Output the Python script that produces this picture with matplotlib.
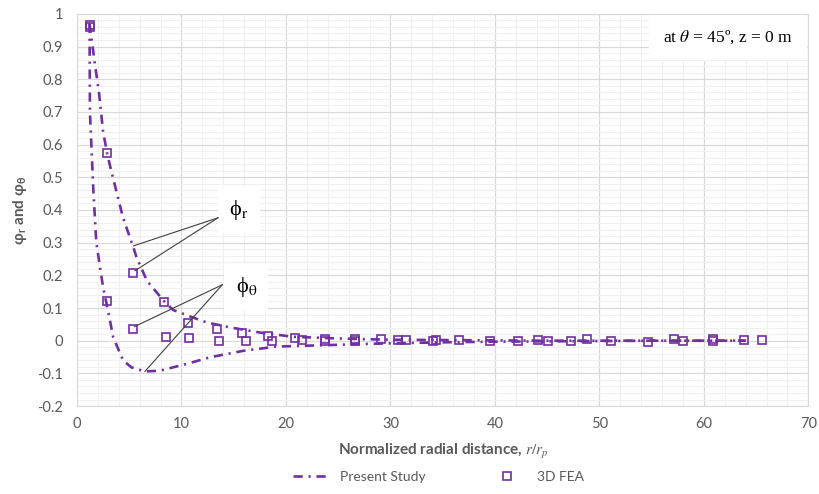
"""Radial decay of phi_r and phi_theta: present study vs 3D FEA."""

import matplotlib

matplotlib.use("Agg")
import matplotlib.pyplot as plt
from matplotlib.ticker import MultipleLocator

PURPLE = "#7030A0"
GREY_TXT = "#595959"

plt.rcParams.update(
    {
        "font.family": ["Lato", "DejaVu Sans"],
        "font.size": 10.5,
        "mathtext.fontset": "stix",
    }
)

# Present Study curves (r/rp, value)
r_curve_x = [1.2, 1.7, 2.1, 2.5, 2.9, 3.2, 4.4, 5.4, 5.7, 6.7, 8.3, 9.2, 11.1, 12.4,
             14.6, 17.5, 20.7, 23.9, 27, 30, 35, 40, 45, 50, 55, 60, 64]
r_curve_y = [0.97, 0.85, 0.76, 0.64, 0.57, 0.53, 0.377, 0.285, 0.255, 0.183, 0.122,
             0.094, 0.071, 0.056, 0.041, 0.025, 0.012, 0.008, 0.005, 0.003, 0.002,
             0.001, 0.0, 0.0, 0.0, 0.0, 0.0]
t_curve_x = [1.2, 1.24, 1.55, 1.85, 2.5, 3.0, 3.47, 4.43, 5.23, 6.5, 7.9, 10.5, 12.7,
             15.9, 19.1, 22.3, 25.5, 30, 35, 40, 45, 50, 55, 60, 64]
t_curve_y = [0.97, 0.7, 0.47, 0.3, 0.163, 0.087, 0.01, -0.061, -0.082, -0.094, -0.092,
             -0.071, -0.051, -0.031, -0.018, -0.015, -0.012, -0.008, -0.005, -0.003,
             -0.002, -0.001, 0.0, 0.0, 0.0]

# 3D FEA points
r_fea_x = [1.2, 2.9, 5.33, 8.3, 10.65, 13.4, 15.8, 18.3, 20.9, 23.7, 26.6, 29.1, 31.5,
           34.4, 36.6, 39.5, 42.2, 44.1, 47.3, 48.8, 51.1, 54.7, 57.1, 60.9, 63.8, 65.6]
r_fea_y = [0.965, 0.573, 0.206, 0.117, 0.053, 0.035, 0.025, 0.015, 0.007, 0.006, 0.004,
           0.006, 0.003, 0.002, 0.001, 0.0, 0.0, 0.003, 0.0, 0.005, 0.0, -0.003, 0.004,
           0.004, 0.003, 0.003]
t_fea_x = [1.2, 2.9, 5.39, 8.5, 10.7, 13.6, 16.2, 18.7, 21.5, 23.7, 26.6, 30.7, 34.1,
           45.1, 58.0, 60.9]
t_fea_y = [0.96, 0.12, 0.036, 0.012, 0.008, 0.0, 0.0, 0.0, 0.002, 0.0, -0.002, 0.002,
           0.0, -0.002, -0.002, 0.0]

fig = plt.figure(figsize=(8.19, 4.94), dpi=100)
ax = fig.add_axes([0.094, 0.178, 0.893, 0.794])

dash = (3.5, 2.2, 0.8, 2.2)
ax.plot(r_curve_x, r_curve_y, color=PURPLE, lw=1.9, dashes=dash, zorder=3,
        label="Present Study")
ax.plot(t_curve_x, t_curve_y, color=PURPLE, lw=1.9, dashes=dash, zorder=3)
ax.plot(r_fea_x, r_fea_y, ls="none", marker="s", ms=6, mfc="none", mec=PURPLE,
        mew=1.2, zorder=4, label="3D FEA")
ax.plot(t_fea_x, t_fea_y, ls="none", marker="s", ms=6, mfc="none", mec=PURPLE,
        mew=1.2, zorder=4)

ax.set_xlim(0, 70)
ax.set_ylim(-0.2, 1.0)
ax.xaxis.set_major_locator(MultipleLocator(10))
ax.xaxis.set_minor_locator(MultipleLocator(2))
ax.yaxis.set_major_locator(MultipleLocator(0.1))
ax.yaxis.set_minor_locator(MultipleLocator(0.02))
ax.yaxis.set_major_formatter(lambda v, _: f"{v:g}" if abs(v) > 1e-9 else "0")
ax.grid(True, which="major", color="#d9d9d9", lw=0.9)
ax.grid(True, which="minor", color="#f0f0f0", lw=0.8)
ax.set_axisbelow(True)
for s in ax.spines.values():
    s.set_color("#d9d9d9")
ax.tick_params(which="both", length=0, colors=GREY_TXT, labelsize=10.5)
ax.tick_params(axis="x", pad=8)
ax.tick_params(axis="y", pad=10)

ax.set_xlabel(r"Normalized radial distance, $\mathit{r/r_p}$", fontweight="bold",
              color=GREY_TXT, fontsize=11, labelpad=8)
ax.set_ylabel(r"φ$_\mathregular{r}$ and φ$_\mathregular{θ}$", fontweight="bold",
              color=GREY_TXT, fontsize=11, labelpad=6)

# annotations
serif = ["Liberation Serif", "DejaVu Serif"]
box = dict(boxstyle="square,pad=0.5", fc="white", ec="none")
ax.text(15.5, 0.40, r"ϕ$_\mathrm{r}$", fontsize=16, family=serif, ha="center",
        va="center", bbox=box, zorder=5)
ax.text(16.2, 0.165, r"ϕ$_\mathrm{\theta}$", fontsize=16, family=serif, ha="center",
        va="center", bbox=box, zorder=5)
line_kw = dict(color="#404040", lw=0.8, zorder=5)
ax.plot([13.5, 5.4], [0.376, 0.29], **line_kw)
ax.plot([13.5, 5.55], [0.376, 0.214], **line_kw)
ax.plot([13.9, 5.5], [0.171, 0.043], **line_kw)
ax.plot([13.9, 6.5], [0.171, -0.094], **line_kw)

ax.text(0.89, 0.94, r"at $\mathit{\theta}$ = 45º, z = 0 m", transform=ax.transAxes,
        fontsize=12.5, family=serif, ha="center", va="center",
        bbox=dict(boxstyle="square,pad=0.8", fc="white", ec="none"), zorder=5)

fig.legend(loc="center", bbox_to_anchor=(0.535, 0.034), ncol=2, frameon=False,
           columnspacing=4.6, handlelength=2.6, labelcolor=GREY_TXT, fontsize=10)

fig.savefig("out.png", dpi=100)
